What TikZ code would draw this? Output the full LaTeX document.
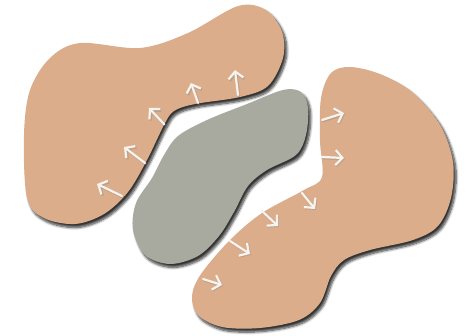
\documentclass[tikz,border=0pt]{standalone}
\usetikzlibrary{shadows.blur,arrows.meta,calc}
\definecolor{tan}{HTML}{DBAD8B}
\definecolor{stone}{HTML}{A8A99F}
\definecolor{arrowwhite}{HTML}{F7F3EE}
\tikzset{
  blob/.style={blur shadow={shadow xshift=2.5pt, shadow yshift=-3.5pt, shadow blur radius=2.5pt, shadow blur steps=8, shadow opacity=80}},
  flow/.style={draw=arrowwhite, line width=2.2pt, line cap=round, line join=round,
    -{Straight Barb[length=7pt,width=15pt,line width=2.2pt]}},
  flowshadow/.style={draw=black!50, opacity=0.3, line width=2.8pt, line cap=round, line join=round,
    -{Straight Barb[length=7pt,width=15pt,line width=2.8pt]}}
}
\newcommand{\flowarrow}[2]{%
  \draw[flowshadow] ($#1+(0.9,1)$) -- ($#2+(0.9,1)$);
  \draw[flow] #1 -- #2;}
\begin{document}
\begin{tikzpicture}[x=1pt,y=-1pt]
\useasboundingbox (0,0) rectangle (474,336);
% left blob
\fill[tan, blob] plot[smooth cycle, tension=0.55] coordinates {
 (24,135) (30,90) (50,58) (80,43) (140,48) (188,33) (238,6) (266,10) (282,32) (283,58)
 (268,86) (240,97) (195,104) (174,111) (164,125) (147,160) (128,192) (104,214)
 (75,224) (44,218) (27,198)};
% gray blob
\fill[stone, blob] plot[smooth cycle, tension=0.55] coordinates {
 (178,136) (207,120) (247,104) (283,90) (301,92) (308,108) (306,135) (296,155)
 (267,170) (248,186) (234,212) (219,236) (198,256) (170,264) (145,255) (133,230)
 (136,203) (152,178) (164,155)};
% right blob
\fill[tan, blob] plot[smooth cycle, tension=0.55] coordinates {
 (321,98) (331,73) (350,67) (380,74) (412,92) (440,125) (453,162) (451,198) (438,226)
 (413,240) (370,250) (344,260) (331,276) (320,303) (299,320) (260,328) (222,327)
 (198,315) (192,296) (201,274) (230,240) (262,213) (304,190) (322,177) (320,140)};
% arrows on left blob
\flowarrow{(122,196)}{(97,184)}
\flowarrow{(145,163)}{(124,147)}
\flowarrow{(164,124)}{(149,108)}
\flowarrow{(198,103)}{(191,83)}
\flowarrow{(238,95)}{(235,70)}
% arrows on right blob
\flowarrow{(322,120)}{(344,113)}
\flowarrow{(322,157)}{(344,158)}
\flowarrow{(302,193)}{(315,209)}
\flowarrow{(262,211)}{(278,226)}
\flowarrow{(230,241)}{(250,254)}
\flowarrow{(203,279)}{(222,285)}
\end{tikzpicture}
\end{document}
